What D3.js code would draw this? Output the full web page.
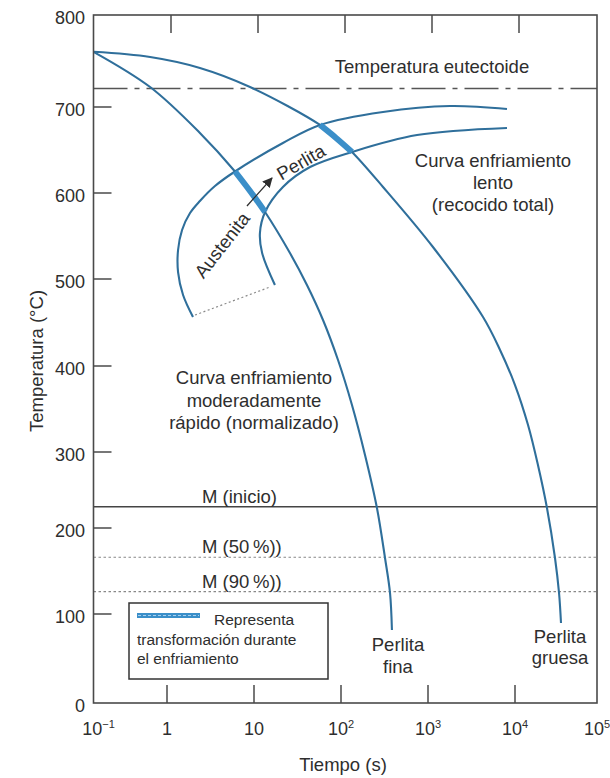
<!DOCTYPE html>
<html>
<head>
<meta charset="utf-8">
<script src="https://cdn.jsdelivr.net/npm/d3@7"></script>
<style>
  html, body { margin: 0; padding: 0; background: #ffffff; }
  svg { display: block; }
  text { font-family: "Liberation Sans", Arial, Helvetica, sans-serif; fill: #2e2e2e; }
</style>
</head>
<body>
<svg id="chart" width="610" height="778"></svg>
<script>
// ---------------- DATA (time in s, temperature in °C) ----------------
// Moderately rapid cooling curve (normalizado) -> Perlita fina
const coolFastTime = [0.1, 0.589, 2.39, 6.05, 9.0, 13.4, 25.9, 40.6, 62.1, 92.4, 133.7, 188.8, 259, 320.6, 366, 385];
const coolFastTemp = [760, 721.7, 669.8, 625, 602.3, 577.9, 530.2, 493.1, 452.9, 406.9, 354.7, 296.1, 226.3, 165.1, 124.4, 82];

// Slow cooling curve (recocido total) -> Perlita gruesa
const coolSlowTime = [0.1, 0.589, 2.39, 9.0, 57.4, 87.7, 133.7, 304, 1140, 4290, 6730, 10000, 14420, 19050, 24550, 30750, 34440, 36390];
const coolSlowTemp = [760, 754.3, 742.4, 721.7, 679.1, 664, 647.7, 607, 537.2, 456.3, 418.4, 377.9, 331.4, 282.9, 226.3, 165.1, 124.4, 89.9];

// Transformation start curve (Austenita -> Perlita begins)
const startTime = [1.99, 1.53, 1.34, 1.34, 1.49, 1.84, 2.39, 3.56, 6.05, 21.5, 57.4, 304, 1790, 8090];
const startTemp = [456.3, 481.6, 508.1, 533.7, 557, 576.7, 590.7, 608.1, 625, 658.1, 679.1, 694.2, 701.1, 697.7];

// Transformation finish curve
const finishTime = [17.4, 12.4, 11.7, 13.4, 21.5, 44.1, 133.7, 748, 8090];
const finishTemp = [493.1, 530.2, 553.5, 577.9, 607, 630.2, 647.7, 667.4, 675.6];

// Dotted connector between lower ends
const connectorTime = [2.1, 15.3];
const connectorTemp = [458.6, 490.8];

// Transformation during cooling (thick segments)
const transFastTime = [6.05, 9.0, 13.4];
const transFastTemp = [625, 602.3, 577.9];
const transSlowTime = [57.4, 87.7, 133.7];
const transSlowTemp = [679.1, 664, 647.7];

// Arrow Austenita -> Perlita
const arrowTime = [8.3, 16.1];
const arrowTemp = [584.9, 617.4];

// Reference horizontal lines
const eutectoidTemp = 720;
const msTemps = [228, 166, 126];
const msLabels = ["M (inicio)", "M (50\u2009%))", "M (90\u2009%))"];

// Axis ticks
const yTicks = [100, 200, 300, 400, 500, 600, 700];
const yTickLabels = [0, 100, 200, 300, 400, 500, 600, 700, 800];
const xTicks = [1, 10, 100, 1000, 10000];
const xTickLabels = [
  {v: 0.1, base: "10", sup: "\u22121"},
  {v: 1, base: "1", sup: ""},
  {v: 10, base: "10", sup: ""},
  {v: 100, base: "10", sup: "2"},
  {v: 1000, base: "10", sup: "3"},
  {v: 10000, base: "10", sup: "4"},
  {v: 100000, base: "10", sup: "5"}
];

// ---------------- SCALES (piecewise to follow the drawn axes) ----------------
const x = d3.scaleLog()
  .domain([0.1, 1, 10, 100, 1000, 10000, 100000])
  .range([93.5, 167, 254, 341, 428, 515, 597]);
const y = d3.scaleLinear()
  .domain([0, 100, 200, 300, 400, 500, 600, 700, 800])
  .range([703, 614, 528, 452, 366, 279, 193, 107, 15]);

const svg = d3.select("#chart");
const pLeft = x(0.1), pRight = x(100000), pTop = y(800), pBottom = y(0);

const zip = (ts, vs) => ts.map((t, i) => [t, vs[i]]);
const line = d3.line().x(d => x(d[0])).y(d => y(d[1])).curve(d3.curveCatmullRom.alpha(0.5));
const straight = d3.line().x(d => x(d[0])).y(d => y(d[1]));

const thinBlue = "#2f6f9b", thickBlue = "#3b8fc9", axisCol = "#4a4a4a";
const FS = 18.5;

// Marker for arrow
svg.append("defs").append("marker")
  .attr("id", "arrowhead").attr("viewBox", "0 0 10 10")
  .attr("refX", 9).attr("refY", 5)
  .attr("markerWidth", 10).attr("markerHeight", 10)
  .attr("markerUnits", "userSpaceOnUse")
  .attr("orient", "auto")
  .append("path").attr("d", "M0,0 L10,5 L0,10 Z").attr("fill", "#2e2e2e");

// ---------------- Reference lines ----------------
svg.append("line")
  .attr("x1", pLeft).attr("x2", pRight)
  .attr("y1", y(eutectoidTemp)).attr("y2", y(eutectoidTemp))
  .attr("stroke", "#555").attr("stroke-width", 1.5)
  .attr("stroke-dasharray", "34,7,5,7");

svg.selectAll("line.ms").data(msTemps).enter().append("line")
  .attr("class", "ms")
  .attr("x1", pLeft).attr("x2", pRight)
  .attr("y1", d => y(d)).attr("y2", d => y(d))
  .attr("stroke", (d, i) => i === 0 ? "#444" : "#888")
  .attr("stroke-width", (d, i) => i === 0 ? 1.5 : 1.2)
  .attr("stroke-dasharray", (d, i) => i === 0 ? null : "2.5,2.5");

// ---------------- Curves ----------------
const curves = [
  zip(coolFastTime, coolFastTemp),
  zip(coolSlowTime, coolSlowTemp),
  zip(startTime, startTemp),
  zip(finishTime, finishTemp)
];
svg.selectAll("path.curve").data(curves).enter().append("path")
  .attr("class", "curve")
  .attr("d", line)
  .attr("fill", "none")
  .attr("stroke", thinBlue)
  .attr("stroke-width", 2.1);

svg.append("path")
  .attr("d", straight(zip(connectorTime, connectorTemp)))
  .attr("fill", "none").attr("stroke", "#8a8a8a")
  .attr("stroke-width", 1.2).attr("stroke-dasharray", "2,2.5");

svg.selectAll("path.trans").data([zip(transFastTime, transFastTemp), zip(transSlowTime, transSlowTemp)])
  .enter().append("path")
  .attr("class", "trans")
  .attr("d", line)
  .attr("fill", "none")
  .attr("stroke", thickBlue)
  .attr("stroke-width", 6);

// Arrow
svg.append("path")
  .attr("d", straight(zip(arrowTime, arrowTemp)))
  .attr("fill", "none").attr("stroke", "#2e2e2e").attr("stroke-width", 1.3)
  .attr("marker-end", "url(#arrowhead)");

// ---------------- Frame & ticks ----------------
svg.append("rect")
  .attr("x", pLeft).attr("y", pTop)
  .attr("width", pRight - pLeft).attr("height", pBottom - pTop)
  .attr("fill", "none").attr("stroke", axisCol).attr("stroke-width", 1.6);

svg.selectAll("line.ytick").data(yTicks).enter().append("line")
  .attr("x1", pLeft).attr("x2", pLeft + 18)
  .attr("y1", d => y(d)).attr("y2", d => y(d))
  .attr("stroke", axisCol).attr("stroke-width", 1.5);

svg.selectAll("line.xtickb").data(xTicks).enter().append("line")
  .attr("x1", d => x(d)).attr("x2", d => x(d))
  .attr("y1", pBottom).attr("y2", pBottom - 18)
  .attr("stroke", axisCol).attr("stroke-width", 1.5);

svg.selectAll("line.xtickt").data(xTicks).enter().append("line")
  .attr("x1", d => x(d) + 4).attr("x2", d => x(d) + 4)
  .attr("y1", pTop).attr("y2", pTop + 18)
  .attr("stroke", axisCol).attr("stroke-width", 1.5);

// Y tick labels
svg.selectAll("text.ylab").data(yTickLabels).enter().append("text")
  .attr("x", 85).attr("y", d => y(d) + 3)
  .attr("text-anchor", "end").attr("dominant-baseline", "central")
  .attr("font-size", 18)
  .text(d => d);

// X tick labels
const xl = svg.selectAll("text.xlab").data(xTickLabels).enter().append("text")
  .attr("x", (d, i) => x(d.v) + (i === 0 ? 5 : 0))
  .attr("y", 735)
  .attr("text-anchor", "middle")
  .attr("font-size", 18);
xl.append("tspan").text(d => d.base);
xl.filter(d => d.sup).append("tspan")
  .attr("dy", -7).attr("font-size", 11)
  .text(d => d.sup);

// Axis titles
svg.append("text")
  .attr("x", 343).attr("y", 771)
  .attr("text-anchor", "middle").attr("font-size", FS)
  .text("Tiempo (s)");
svg.append("text")
  .attr("transform", "translate(43,361) rotate(-90)")
  .attr("text-anchor", "middle").attr("font-size", FS)
  .text("Temperatura (\u00b0C)");

// ---------------- Annotations ----------------
svg.append("text")
  .attr("x", 432).attr("y", 73)
  .attr("text-anchor", "middle").attr("font-size", FS)
  .text("Temperatura eutectoide");

svg.selectAll("text.mlab").data(msTemps).enter().append("text")
  .attr("x", 202).attr("y", d => y(d) - 4)
  .attr("font-size", FS)
  .text((d, i) => msLabels[i]);

function multiline(lines, cx, baseY, lh) {
  const t = svg.append("text").attr("text-anchor", "middle").attr("font-size", FS);
  lines.forEach((s, i) => t.append("tspan").attr("x", cx).attr("y", baseY + i * lh).text(s));
}
multiline(["Curva enfriamiento", "lento", "(recocido total)"], 493, 167, 22);
multiline(["Curva enfriamiento", "moderadamente", "rápido (normalizado)"], 254, 384, 22.5);
multiline(["Perlita", "fina"], 398, 651, 22);
multiline(["Perlita", "gruesa"], 560, 643, 21);

svg.append("text")
  .attr("transform", `translate(${x(4.29)},${y(539.5)}) rotate(-52)`)
  .attr("text-anchor", "middle").attr("dominant-baseline", "central")
  .attr("font-size", FS).text("Austenita");
svg.append("text")
  .attr("transform", `translate(${x(34.7)},${y(636)}) rotate(-30)`)
  .attr("text-anchor", "middle").attr("dominant-baseline", "central")
  .attr("font-size", FS).text("Perlita");

// ---------------- Legend ----------------
svg.append("rect")
  .attr("x", 129).attr("y", 603).attr("width", 199).attr("height", 76)
  .attr("fill", "#fff").attr("stroke", "#333").attr("stroke-width", 1.5);
svg.append("line")
  .attr("x1", 137).attr("x2", 200).attr("y1", 615.5).attr("y2", 615.5)
  .attr("stroke", thickBlue).attr("stroke-width", 5);
svg.append("line")
  .attr("x1", 138).attr("x2", 199).attr("y1", 615.5).attr("y2", 615.5)
  .attr("stroke", "#a9d0ee").attr("stroke-width", 1).attr("stroke-dasharray", "3,2");
svg.append("text").attr("x", 214).attr("y", 625).attr("font-size", 15.5).text("Representa");
svg.append("text").attr("x", 137).attr("y", 645).attr("font-size", 15.5).text("transformación durante");
svg.append("text").attr("x", 137).attr("y", 664).attr("font-size", 15.5).text("el enfriamiento");
</script>
</body>
</html>
